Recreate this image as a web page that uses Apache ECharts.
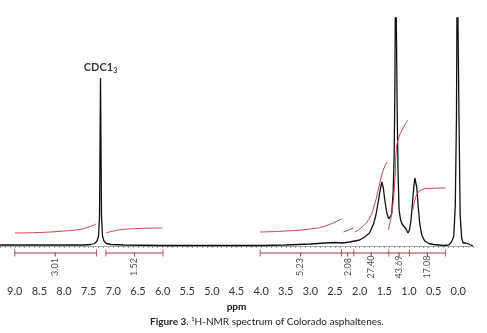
<!DOCTYPE html>
<html>
<head>
<meta charset="utf-8">
<script src="https://cdn.jsdelivr.net/npm/echarts@6/dist/echarts.min.js"></script>
<style>
html, body { margin: 0; background: #fff; }
#nmr { width: 487px; height: 333px; }
</style>
</head>
<body>
<div id="nmr"></div>
<script>
// spectrum: [ppm, intensity above baseline]
const spectrum = [
  [9.3, 1], [9.0, 1], [8.5, 1], [8.0, 1], [7.6, 1], [7.45, 1.5], [7.38, 2.5], [7.33, 5], [7.3, 10],
  [7.28, 30], [7.27, 100], [7.26, 168], [7.25, 100], [7.24, 30], [7.22, 10], [7.19, 5], [7.14, 2.5],
  [7.05, 1.5], [6.8, 1], [6.0, 0.5], [5.0, 0.5], [4.0, 0.5], [3.5, 1], [3.0, 2], [2.7, 3], [2.5, 3.5],
  [2.35, 3], [2.2, 4], [2.1, 5], [2.0, 6], [1.9, 9], [1.8, 13], [1.72, 22], [1.67, 31], [1.62, 45],
  [1.58, 57], [1.55, 64], [1.52, 58], [1.49, 46], [1.45, 33], [1.41, 27], [1.38, 26], [1.35, 32],
  [1.32, 55], [1.3, 90], [1.285, 160], [1.27, 300], [1.255, 300], [1.24, 140], [1.22, 70], [1.2, 36],
  [1.17, 26], [1.14, 22], [1.1, 20], [1.06, 17], [1.02, 13], [0.99, 16], [0.96, 25], [0.93, 42],
  [0.9, 60], [0.88, 68], [0.86, 66], [0.84, 58], [0.81, 38], [0.78, 22], [0.74, 11], [0.68, 5],
  [0.6, 2.5], [0.5, 1.5], [0.3, 0.5], [0.2, 1], [0.15, 3], [0.12, 6], [0.09, 10], [0.06, 40],
  [0.035, 130], [0.02, 300], [0.0, 300], [-0.015, 130], [-0.04, 30], [-0.07, 8], [-0.1, 3],
  [-0.14, 2], [-0.16, 3], [-0.18, 1], [-0.3, 0]
]

// integral traces (red curves)
const integralCurves = [
  [[9.0, 13], [8.5, 13.5], [8.0, 15], [7.7, 16.5], [7.5, 19], [7.35, 22]],
  [[7.15, 13], [7.0, 15], [6.8, 16.5], [6.5, 17.5], [6.0, 18]],
  [[4.02, 14], [3.5, 15], [3.0, 17], [2.7, 20], [2.37, 27]],
  [[2.33, 14], [2.12, 18]],
  [[2.1, 14], [1.95, 19], [1.8, 28], [1.7, 41], [1.6, 61], [1.52, 76], [1.44, 84]],
  [[1.42, 16], [1.34, 36], [1.28, 71], [1.26, 94], [1.22, 106], [1.12, 118], [1.02, 126]],
  [[0.92, 36], [0.88, 46], [0.82, 53], [0.75, 56], [0.6, 57.5], [0.26, 58]]
]

// integration bars: boundaries of each group, then value labels and their centres
const integralGroups = [
  [9.0, 7.34],
  [7.15, 5.99],
  [4.02, 2.37, 2.12, 1.41, 0.99, 0.26]
]
const integralValues = ['3.01', '1.52', '5.23', '2.08', '27.40', '43.69', '17.08']
const integralCenters = [8.18, 6.57, 3.2, 2.245, 1.765, 1.2, 0.625]

const tickValues = [9.0, 8.5, 8.0, 7.5, 7.0, 6.5, 6.0, 5.5, 5.0, 4.5, 4.0, 3.5, 3.0, 2.5, 2.0, 1.5, 1.0, 0.5, 0.0]
const solventPeak = [7.26, 168]

const barY = -7
const curveColor = '#c8424a'
const barColor = '#a8323e'
const fontFamily = 'Lato, "DejaVu Sans", sans-serif'

const minorTicks = []
for (let i = -3; i <= 93; i++) {
  minorTicks.push(i / 10)
}

const myChart = echarts.init(document.getElementById('nmr'))
let seriesArr = []

seriesArr.push({
  type: 'line',
  data: spectrum,
  showSymbol: false,
  clip: true,
  lineStyle: { color: '#111', width: 1.3 },
  z: 3
})

integralCurves.map((curve) => {
  seriesArr.push({
    type: 'line',
    data: curve,
    smooth: true,
    showSymbol: false,
    lineStyle: { color: curveColor, width: 1 },
    z: 4
  })
})

let boundaries = []
integralGroups.map((group) => {
  seriesArr.push({
    type: 'line',
    data: [[group[0], barY], [group[group.length - 1], barY]],
    showSymbol: false,
    lineStyle: { color: barColor, width: 1 }
  })
  group.map((b) => {
    boundaries.push([b, barY])
  })
})

seriesArr.push({
  type: 'scatter',
  data: boundaries,
  symbol: 'rect',
  symbolSize: [1, 7],
  itemStyle: { color: barColor }
})

seriesArr.push({
  type: 'scatter',
  data: integralCenters.map((c) => [c, barY - 1.5]),
  symbol: 'rect',
  symbolSize: [1, 4],
  itemStyle: { color: '#333' }
})

seriesArr.push({
  type: 'scatter',
  data: integralCenters.map((c, i) => ({ value: [c, barY - 14], name: integralValues[i] })),
  symbolSize: 0,
  label: {
    show: true,
    position: 'inside',
    rotate: 90,
    formatter: (p) => p.name,
    color: '#222',
    fontSize: 9,
    fontFamily: fontFamily
  }
})

seriesArr.push({
  type: 'scatter',
  data: [solventPeak],
  symbolSize: 0,
  label: {
    show: true,
    position: 'top',
    distance: 4,
    formatter: 'CDC1{sub|3}',
    color: '#000',
    fontSize: 11,
    fontWeight: 'bold',
    fontFamily: fontFamily,
    rich: {
      sub: { fontSize: 7, fontWeight: 'bold', verticalAlign: 'bottom', padding: [6, 0, 0, 0], fontFamily: fontFamily }
    }
  }
})

const option = {
  animation: false,
  backgroundColor: '#fff',
  title: {
    text: '{b|Figure 3.} ¹H-NMR spectrum of Colorado asphaltenes.',
    left: 145,
    top: 312,
    textStyle: {
      fontSize: 10,
      fontWeight: 'normal',
      color: '#222',
      fontFamily: fontFamily,
      rich: {
        b: { fontSize: 10, fontWeight: 'bold', color: '#222', fontFamily: fontFamily }
      }
    }
  },
  grid: { left: 0, right: 14, top: 18, bottom: 52 },
  xAxis: {
    type: 'value',
    min: -0.3,
    max: 9.3,
    inverse: true,
    name: 'ppm',
    nameLocation: 'middle',
    nameGap: 19,
    nameTextStyle: { fontSize: 10, fontWeight: 'bold', color: '#111', fontFamily: fontFamily },
    axisLine: { lineStyle: { color: '#aaa', width: 1 } },
    axisTick: { show: true, customValues: minorTicks, length: 2, lineStyle: { color: '#999' } },
    axisLabel: {
      customValues: tickValues,
      formatter: (v) => v.toFixed(1),
      color: '#333',
      fontSize: 11,
      margin: 5,
      fontFamily: fontFamily
    },
    splitLine: { show: false }
  },
  yAxis: {
    type: 'value',
    min: -35,
    max: 228,
    show: false
  },
  series: seriesArr
}
myChart.setOption(option)
</script>
</body>
</html>
